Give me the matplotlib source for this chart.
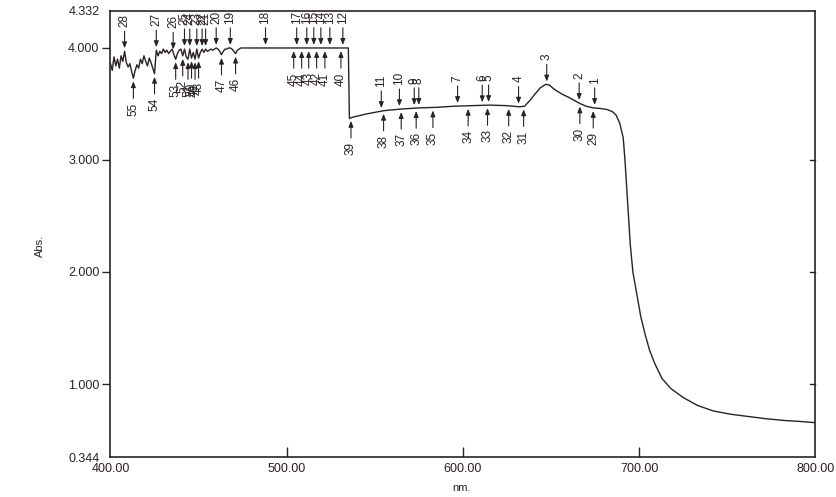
import numpy as np
import matplotlib
matplotlib.use("Agg")
from matplotlib import pyplot as plt

plt.rcParams["font.family"] = ["Liberation Sans", "DejaVu Sans"]

INK = "#2b2222"

# spectrum (nm, Abs.)
wl_noise = list(range(400, 473))
abs_noise = [3.86, 3.80, 3.92, 3.84, 3.90, 3.82, 3.93, 3.88, 3.97, 3.87,
             3.83, 3.86, 3.79, 3.73, 3.80, 3.85, 3.82, 3.90, 3.86, 3.93,
             3.88, 3.84, 3.91, 3.87, 3.82, 3.77, 3.98, 3.93, 3.97, 3.95,
             3.99, 3.96, 3.98, 3.95, 3.97, 3.99, 3.94, 3.90, 3.95, 3.98,
             3.99, 3.93, 3.99, 3.92, 3.90, 3.99, 3.91, 3.96, 3.90, 3.99,
             3.91, 3.96, 3.99, 3.96, 3.99, 3.97, 3.98, 3.99, 3.98, 3.99,
             4.00, 3.99, 3.97, 3.94, 3.97, 3.99, 3.99, 4.00, 4.00, 3.99,
             3.97, 3.95, 3.98]
wl_rest = [474, 500, 535, 535.6, 537, 545, 555, 565, 575, 585, 595, 605,
           615, 625, 632, 635, 638, 641, 644, 647, 649, 652, 656, 660, 664,
           667, 670, 674, 678, 682, 685, 687, 689, 691, 692, 693, 694, 695,
           696.5, 699, 701, 703.5, 706, 709, 713, 718, 725, 733, 742, 752,
           762, 772, 782, 792, 800]
abs_rest = [4.00, 4.00, 4.00, 3.37, 3.38, 3.41, 3.44, 3.455, 3.465, 3.47,
            3.48, 3.485, 3.49, 3.485, 3.475, 3.48, 3.53, 3.59, 3.645, 3.675,
            3.67, 3.63, 3.59, 3.56, 3.525, 3.50, 3.48, 3.465, 3.46, 3.45,
            3.43, 3.40, 3.33, 3.20, 3.00, 2.75, 2.50, 2.25, 2.00, 1.78,
            1.60, 1.44, 1.30, 1.18, 1.05, 0.96, 0.88, 0.81, 0.76, 0.73,
            0.71, 0.69, 0.675, 0.665, 0.655]
wavelength = np.array(wl_noise + wl_rest, dtype=float)
absorb = np.array(abs_noise + abs_rest)

# peak picks (label above) and valley picks (label below)
peak_ids = list(range(1, 29))
peak_nm = [674.8, 666.0, 647.6, 631.6, 614.6, 611.0, 597.0, 575.0, 572.4,
           564.0, 553.7, 531.9, 524.5, 519.4, 515.4, 511.4, 505.7, 488.0,
           468.0, 460.0, 454.0, 452.0, 449.0, 445.0, 442.0, 435.6, 426.0,
           408.0]
valley_ids = list(range(29, 56))
valley_nm = [674.0, 666.4, 634.5, 626.0, 614.0, 603.0, 583.0, 573.5, 565.0,
             555.0, 536.5, 530.8, 521.7, 517.0, 512.5, 508.5, 504.0, 471.0,
             463.0, 450.0, 448.0, 446.0, 444.0, 441.0, 437.0, 425.0, 413.0]

x_ticks = [400, 500, 600, 700, 800]
y_ticks = [0.344, 1.0, 2.0, 3.0, 4.0, 4.332]

fig = plt.figure(figsize=(8.37, 4.97), dpi=100)
ax = fig.add_axes([0.132, 0.0795, 0.842, 0.8988])

ax.plot(wavelength, absorb, color=INK, lw=1.0)

ax.set_xlim(400, 800)
ax.set_ylim(0.344, 4.332)

arrow = dict(arrowstyle="-|>,head_length=0.35,head_width=0.14",
             color=INK, lw=0.8, shrinkA=0, shrinkB=2.2)

def mark(x, lab, up):
    # arrow points at the curve, number sits past the arrow tail
    y = np.interp(x, wavelength, absorb)
    s = 1 if up else -1
    ax.annotate("", xy=(x, y), xycoords="data",
                xytext=(0, s * 14.5), textcoords="offset points",
                arrowprops=arrow, annotation_clip=False)
    ax.annotate(str(lab), xy=(x, y), xycoords="data",
                xytext=(0, s * 17.5), textcoords="offset points",
                rotation=90, ha="center", va="bottom" if up else "top",
                fontsize=8.5, color=INK, annotation_clip=False)

for i, x in zip(peak_ids, peak_nm):
    mark(x, i, True)
for i, x in zip(valley_ids, valley_nm):
    mark(x, i, False)

ax.set_xticks(x_ticks)
ax.set_xticklabels(["%.2f" % v for v in x_ticks])
ax.set_yticks(y_ticks)
ax.set_yticklabels(["%.3f" % v for v in y_ticks])
ax.tick_params(axis="x", direction="in", length=7, width=1.0, colors=INK,
               labelsize=9, pad=4)
ax.tick_params(axis="y", direction="out", length=6, width=1.0, colors=INK,
               labelsize=9, pad=2)
for t in ax.xaxis.get_major_ticks()[::4]:
    t.tick1line.set_visible(False)
for t in (ax.yaxis.get_major_ticks()[0], ax.yaxis.get_major_ticks()[-1]):
    t.tick1line.set_visible(False)

# inward ticks on the right frame
for v in [1.0, 2.0, 3.0]:
    ax.plot([1, 0.992], [v, v], transform=ax.get_yaxis_transform(),
            color=INK, lw=1.0, clip_on=False)

for sp in ax.spines.values():
    sp.set_color(INK)
    sp.set_linewidth(1.2)

fig.text(0.048, 0.505, "Abs.", rotation=90, ha="center", va="center",
         fontsize=8, color=INK)
fig.text(0.552, 0.018, "nm.", ha="center", va="center", fontsize=8,
         color=INK)

fig.savefig("out.png", dpi=100, facecolor="white")
